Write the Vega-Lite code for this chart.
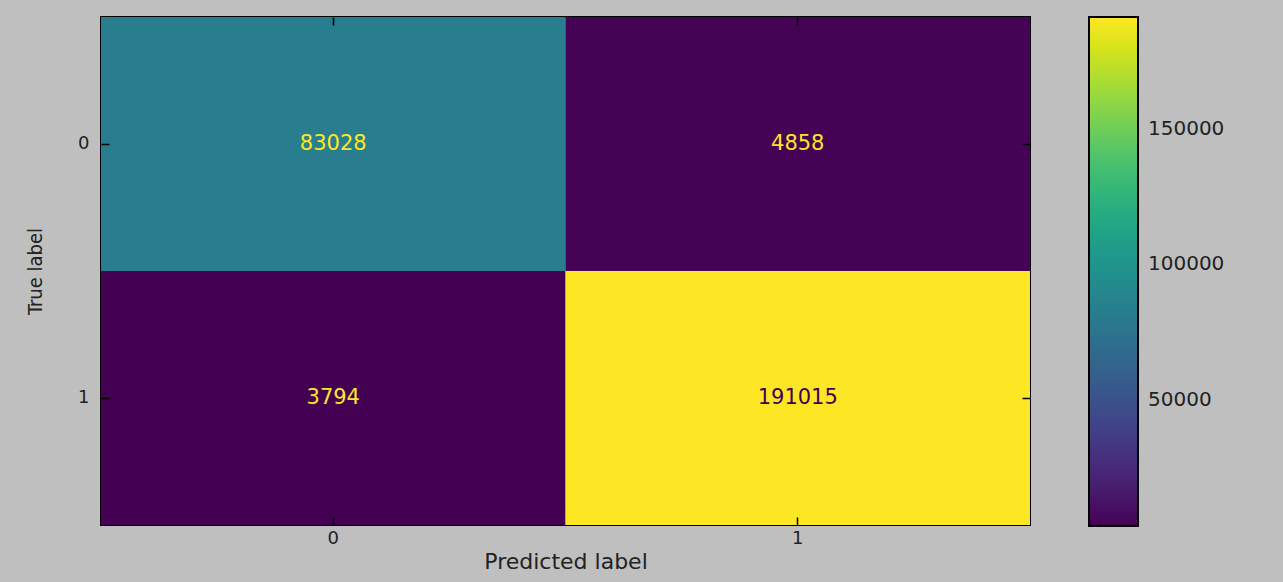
{
  "$schema": "https://vega.github.io/schema/vega-lite/v6.json",
  "width": 929,
  "height": 508,
  "autosize": {"type": "none"},
  "padding": {"left": 101, "top": 17, "right": 253, "bottom": 57},
  "background": "#bfbfbf",
  "config": {
    "view": {"stroke": "#000000", "strokeWidth": 2},
    "axis": {
      "domain": false,
      "grid": false,
      "ticks": true,
      "tickColor": "#000000",
      "tickWidth": 1.5,
      "labelFont": "DejaVu Sans",
      "labelFontSize": 18,
      "labelColor": "#222222",
      "titleFont": "DejaVu Sans",
      "titleFontWeight": "normal",
      "titleColor": "#222222"
    }
  },
  "data": {
    "values": [
      {"true_label": "0", "predicted_label": "0", "count": 83028},
      {"true_label": "0", "predicted_label": "1", "count": 4858},
      {"true_label": "1", "predicted_label": "0", "count": 3794},
      {"true_label": "1", "predicted_label": "1", "count": 191015}
    ]
  },
  "resolve": {"axis": {"x": "independent", "y": "independent"}},
  "layer": [
    {
      "mark": {"type": "rect"},
      "encoding": {
        "x": {
          "field": "predicted_label",
          "type": "ordinal",
          "scale": {"paddingInner": 0, "paddingOuter": 0},
          "axis": {"orient": "bottom", "tickSize": 8, "offset": -8, "zindex": 1, "labelAngle": 0, "labelPadding": 4, "title": "Predicted label", "titleFontSize": 22, "titlePadding": 4}
        },
        "y": {
          "field": "true_label",
          "type": "ordinal",
          "scale": {"paddingInner": 0, "paddingOuter": 0},
          "axis": {"orient": "left", "tickSize": 8, "offset": -8, "zindex": 1, "labelPadding": 12, "title": "True label", "titleFont": "DejaVu Sans Condensed", "titleFontSize": 20, "titlePadding": 32}
        },
        "color": {
          "field": "count",
          "type": "quantitative",
          "scale": {"scheme": "viridis", "domain": [3794, 191015]},
          "legend": {
            "title": null,
            "orient": "right",
            "offset": 58,
            "direction": "vertical",
            "gradientLength": 509,
            "gradientThickness": 49,
            "gradientStrokeColor": "#000000",
            "gradientStrokeWidth": 2,
            "values": [50000, 100000, 150000],
            "format": "d",
            "labelFont": "DejaVu Sans",
            "labelFontSize": 20,
            "labelColor": "#222222",
            "labelOffset": 10,
            "padding": 0
          }
        }
      }
    },
    {
      "mark": {"type": "text", "font": "DejaVu Sans", "fontSize": 21},
      "encoding": {
        "x": {
          "field": "predicted_label",
          "type": "ordinal",
          "axis": {"orient": "top", "tickSize": 8, "offset": -8, "zindex": 1, "labels": false, "title": null}
        },
        "y": {
          "field": "true_label",
          "type": "ordinal",
          "axis": {"orient": "right", "tickSize": 8, "offset": -8, "zindex": 1, "labels": false, "title": null}
        },
        "text": {"field": "count", "type": "nominal"},
        "color": {
          "condition": {"test": "datum.count > 100000", "value": "#440154"},
          "value": "#fde725"
        }
      }
    }
  ]
}
